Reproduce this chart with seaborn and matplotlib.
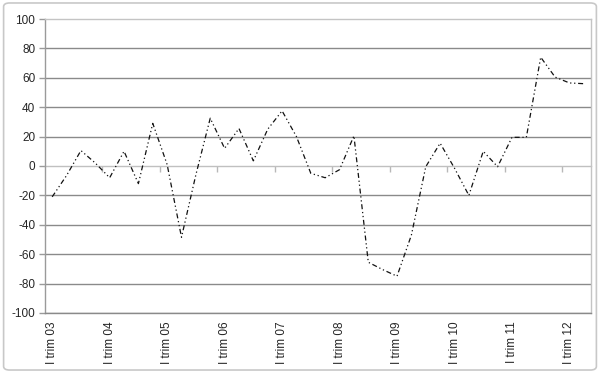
import numpy as np
import pandas as pd
import seaborn as sns
import matplotlib.pyplot as plt
from matplotlib.patches import FancyBboxPatch

# quarterly series, I trim 03 .. II trim 12
roman = ['I', 'II', 'III', 'IV']
quarters = [f'{roman[q]} trim {y:02d}' for y in range(3, 13) for q in range(4)][:38]
values = [-21, -6.5, 10.5, 2, -8, 10, -12, 29, 1, -48.5,
          -6, 32.5, 12, 25.5, 3.5, 25, 37.5, 20, -5, -8,
          -2.5, 20.5, -65.5, -70.5, -75, -47, -0.5, 15.5, -1.5, -20,
          10, -0.5, 19.5, 19.5, 74, 60.5, 56.5, 56]
yticks = list(range(-100, 101, 20))

df = pd.DataFrame({'pos': np.arange(len(values)), 'val': values})

sns.set_style('white')
plt.rcParams['font.family'] = ['Liberation Sans', 'DejaVu Sans']

fig = plt.figure(figsize=(6, 3.73), dpi=100)
ax = fig.add_axes([0.075, 0.161, 0.91, 0.788])

sns.lineplot(data=df, x='pos', y='val', ax=ax, color='#111111', lw=0.9,
             dashes=False)
ax.lines[0].set_dashes((4, 2.2, 1, 2.2, 1, 2.2))

ax.set_xlim(-0.5, len(values) - 0.5)
ax.set_ylim(-100, 100)
ax.set_yticks(yticks)
ax.set_yticklabels([str(t) for t in yticks], fontsize=8.5)
for t in yticks:
    if t not in (0, 100):
        ax.axhline(t, color='#8a8a8a', lw=1.0, zorder=0)

ax.set_xticks(df['pos'][::4])
ax.set_xticklabels(quarters[::4], rotation=90, fontsize=8.5)
ax.tick_params(axis='x', length=0, pad=6)
ax.tick_params(axis='y', length=4, width=1, color='#9a9a9a', direction='out', pad=3, left=True)
ax.set_xlabel('')
ax.set_ylabel('')

for s in ['top', 'right']:
    ax.spines[s].set_color('#c4c4c4')
ax.spines['left'].set_color('#9a9a9a')
ax.spines['bottom'].set_color('#8a8a8a')
for s in ax.spines.values():
    s.set_linewidth(1.0)

# zero axis with category-boundary ticks
sec = ax.secondary_xaxis(0.5)
sec.set_xticks(np.arange(3.5, len(values) - 0.5, 4))
sec.set_xticklabels([])
sec.tick_params(length=4, width=1, color='#b8b8b8', direction='in')
for s in sec.spines.values():
    s.set_color('#c0c0c0')
    s.set_linewidth(1.0)
sec.set_zorder(0.5)

fig.patches.append(FancyBboxPatch((0.006, 0.008), 0.988, 0.984,
                                  boxstyle='round,pad=0,rounding_size=0.01',
                                  transform=fig.transFigure, fill=False,
                                  edgecolor='#c8c8c8', lw=1.2))

fig.savefig('out.png', dpi=100)
